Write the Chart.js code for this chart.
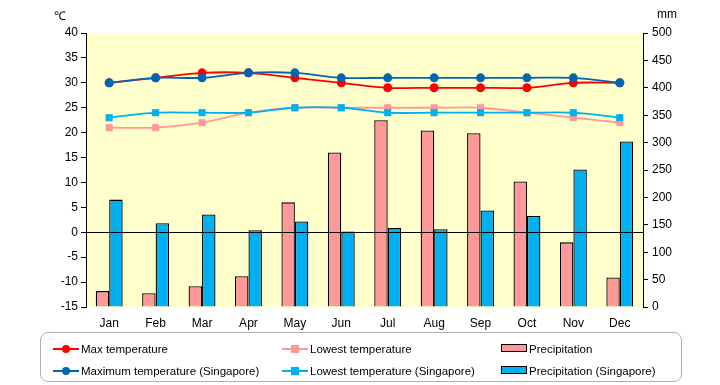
<!DOCTYPE html>
<html>
<head>
<meta charset="utf-8">
<script src="https://cdn.jsdelivr.net/npm/chart.js@4.4.0/dist/chart.umd.min.js"></script>
<style>
  html, body { margin: 0; padding: 0; background: #fff; }
  #wrap { position: relative; width: 720px; height: 385px; font-family: "Liberation Sans", Arial, sans-serif; color: #000; }
  #chart { position: absolute; left: 0; top: 0; }
  .unit { position: absolute; top: 7px; font-size: 12px; }
  #legend { position: absolute; left: 40px; top: 332px; width: 642px; height: 50px; border: 1px solid #b0b0b0; border-radius: 8px; box-sizing: border-box; font-size: 11.5px; }
  .item { position: absolute; height: 14px; line-height: 14px; white-space: nowrap; }
  .sample { position: absolute; left: 0; top: 6px; width: 26px; height: 2px; }
  .mark { position: absolute; left: 9px; top: -3px; width: 8px; height: 8px; }
  .bar { position: absolute; left: 0; top: 2px; width: 26px; height: 8px; border: 1.5px solid #000; box-sizing: border-box; }
  .label { position: absolute; left: 28px; top: 0; }
</style>
</head>
<body>
<div id="wrap">
  <canvas id="chart" width="720" height="385"></canvas>
  <div class="unit" style="left:54px;">℃</div>
  <div class="unit" style="left:657px;">mm</div>
  <div id="legend"></div>
</div>
<script>
// =================== DATA ===================
const months = ["Jan", "Feb", "Mar", "Apr", "May", "Jun", "Jul", "Aug", "Sep", "Oct", "Nov", "Dec"];
const maxTemp = [30, 31, 32, 32, 31, 30, 29, 29, 29, 29, 30, 30];
const lowTemp = [21, 21, 22, 24, 25, 25, 25, 25, 25, 24, 23, 22];
const precip = [29, 25, 38, 56, 191, 282, 341, 322, 317, 229, 118, 54];
const maxTempSg = [30, 31, 31, 32, 32, 31, 31, 31, 31, 31, 31, 30];
const lowTempSg = [23, 24, 24, 24, 25, 25, 24, 24, 24, 24, 24, 23];
const precipSg = [196, 153, 169, 140, 156, 138, 144, 142, 176, 166, 251, 302];
const tempTicks = [-15, 40, 5];
const mmTicks = [0, 500, 50];

// =================== COLOURS ===================
const RED = "#ff0000";
const PINK = "#ff9999";
const NAVY = "#0066b3";
const CYAN = "#00b0f0";
const PLOT_BG = "#ffffcc";

// =================== PLUGINS ===================
const plotBg = {
  id: "plotBg",
  beforeDraw(chart) {
    const { ctx, chartArea: a } = chart;
    ctx.save();
    ctx.fillStyle = PLOT_BG;
    ctx.fillRect(a.left, a.top, a.right - a.left, a.bottom - a.top);
    ctx.restore();
  }
};

const zeroLine = {
  id: "zeroLine",
  afterDatasetsDraw(chart) {
    const { ctx, chartArea: a } = chart;
    const y = Math.round(chart.scales.y.getPixelForValue(0)) + 0.5;
    ctx.save();
    ctx.strokeStyle = "#000";
    ctx.lineWidth = 1;
    ctx.beginPath();
    ctx.moveTo(a.left, y);
    ctx.lineTo(a.right, y);
    ctx.stroke();
    ctx.restore();
  }
};

const lineSet = (label, data, color, style, order) => ({
  type: "line",
  label,
  data,
  yAxisID: "y",
  borderColor: color,
  backgroundColor: color,
  borderWidth: 1.8,
  tension: 0.3,
  pointStyle: style,
  pointRadius: style === "rect" ? 5 : 4.5,
  pointBorderWidth: 0,
  order
});

const barSet = (label, data, color, order) => ({
  type: "bar",
  label,
  data,
  yAxisID: "y1",
  backgroundColor: color,
  borderColor: "#000",
  borderWidth: 1.3,
  barPercentage: 1,
  categoryPercentage: 0.58,
  order
});

const tickFont = { family: "'Liberation Sans', Arial, sans-serif", size: 12 };

new Chart(document.getElementById("chart"), {
  data: {
    labels: months,
    datasets: [
      lineSet("Max temperature", maxTemp, RED, "circle", 3),
      lineSet("Lowest temperature", lowTemp, PINK, "rect", 4),
      barSet("Precipitation", precip, PINK, 5),
      lineSet("Maximum temperature (Singapore)", maxTempSg, NAVY, "circle", 1),
      lineSet("Lowest temperature (Singapore)", lowTempSg, CYAN, "rect", 2),
      barSet("Precipitation (Singapore)", precipSg, CYAN, 6)
    ]
  },
  options: {
    responsive: false,
    devicePixelRatio: 1,
    animation: false,
    layout: { padding: { top: 33, bottom: 53, left: 0, right: 0 } },
    plugins: { legend: { display: false }, tooltip: { enabled: false } },
    scales: {
      x: {
        offset: true,
        grid: { display: false },
        border: { display: false },
        ticks: { color: "#000", font: tickFont, padding: 1 },
        afterFit(s) { s.height = 25; }
      },
      y: {
        position: "left",
        min: tempTicks[0],
        max: tempTicks[1],
        ticks: { stepSize: tempTicks[2], color: "#000", font: tickFont, padding: 3 },
        grid: { drawOnChartArea: false, tickLength: 5, color: "#000" },
        border: { color: "#000", width: 1 },
        afterFit(s) { s.width = 86; }
      },
      y1: {
        position: "right",
        min: mmTicks[0],
        max: mmTicks[1],
        ticks: { stepSize: mmTicks[2], color: "#000", font: tickFont, padding: 4 },
        grid: { drawOnChartArea: false, tickLength: 5, color: "#000" },
        border: { color: "#000", width: 1 },
        afterFit(s) { s.width = 77; }
      }
    }
  },
  plugins: [plotBg, zeroLine]
});

// =================== LEGEND ===================
const legendItems = [
  { text: "Max temperature", kind: "line", color: RED, shape: "circle", x: 12, y: 9 },
  { text: "Lowest temperature", kind: "line", color: PINK, shape: "rect", x: 241, y: 9 },
  { text: "Precipitation", kind: "bar", color: PINK, x: 460, y: 9 },
  { text: "Maximum temperature (Singapore)", kind: "line", color: NAVY, shape: "circle", x: 12, y: 31 },
  { text: "Lowest temperature (Singapore)", kind: "line", color: CYAN, shape: "rect", x: 241, y: 31 },
  { text: "Precipitation (Singapore)", kind: "bar", color: CYAN, x: 460, y: 31 }
];

const legendEl = document.getElementById("legend");
legendItems.forEach(it => {
  const d = document.createElement("div");
  d.className = "item";
  d.style.left = it.x + "px";
  d.style.top = it.y + "px";
  if (it.kind === "line") {
    const radius = it.shape === "circle" ? "50%" : "0";
    d.innerHTML = `<div class="sample" style="background:${it.color}"><div class="mark" style="background:${it.color};border-radius:${radius}"></div></div>`;
  } else {
    d.innerHTML = `<div class="bar" style="background:${it.color}"></div>`;
  }
  d.innerHTML += `<span class="label">${it.text}</span>`;
  legendEl.appendChild(d);
});
</script>
</body>
</html>
